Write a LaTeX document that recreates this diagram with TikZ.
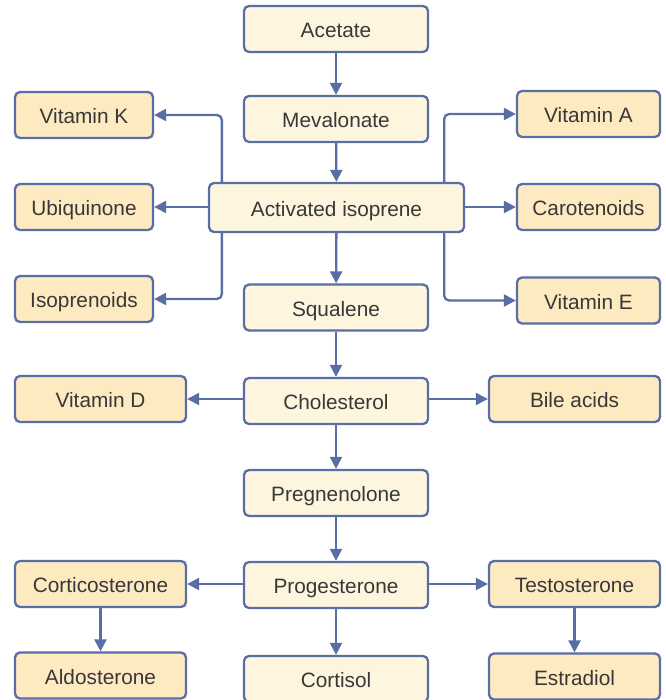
\documentclass[tikz,border=0pt]{standalone}
\usepackage{fontspec}
\setmainfont{Liberation Sans}
\usetikzlibrary{arrows.meta}
\definecolor{edgeblue}{HTML}{5A6EA6}
\definecolor{mainfill}{HTML}{FEF5DF}
\definecolor{sidefill}{HTML}{FDEAC0}
\definecolor{labelgray}{HTML}{383838}
\begin{document}
\begin{tikzpicture}[x=1pt,y=-1pt,
  box/.style={draw=edgeblue, line width=2.3pt, rounded corners=5pt,
    inner sep=0pt, text=labelgray, text height=17.5pt, text depth=0pt,
    font=\fontsize{20.8}{24}\selectfont},
  mainbox/.style={box, fill=mainfill, minimum width=184pt, minimum height=46pt},
  sidebox/.style={box, fill=sidefill, minimum height=46pt},
  narrow/.style={minimum width=138pt},
  wide/.style={minimum width=171pt},
  flow/.style={draw=edgeblue, line width=2.3pt,
    -{Triangle[length=12pt,width=12pt]}},
  elbow/.style={flow, rounded corners=5pt}]
\useasboundingbox (0,0) rectangle (665,700);

% central pathway
\node[mainbox] (acetate) at (336,29) {Acetate};
\node[mainbox] (meval) at (336,119) {Mevalonate};
\node[mainbox, minimum width=255pt, minimum height=49pt] (isoprene) at (336.5,207.5) {Activated isoprene};
\node[mainbox] (squalene) at (336,307.5) {Squalene};
\node[mainbox] (chol) at (336,401) {Cholesterol};
\node[mainbox] (preg) at (336,493) {Pregnenolone};
\node[mainbox] (prog) at (336,585) {Progesterone};
\node[mainbox] (cortisol) at (336,679) {Cortisol};

% products of activated isoprene
\node[sidebox, narrow] (vitk) at (84,115) {Vitamin K};
\node[sidebox, narrow] (ubiq) at (84,207) {Ubiquinone};
\node[sidebox, narrow] (isopren) at (84,299) {Isoprenoids};
\node[sidebox, minimum width=143pt] (vita) at (588.5,114) {Vitamin A};
\node[sidebox, minimum width=143pt] (carot) at (588.5,207) {Carotenoids};
\node[sidebox, minimum width=143pt] (vite) at (588.5,300.5) {Vitamin E};

% products of cholesterol and progesterone
\node[sidebox, wide] (vitd) at (100.5,399) {Vitamin D};
\node[sidebox, wide] (bile) at (574.5,399) {Bile acids};
\node[sidebox, wide] (cortico) at (100.5,584) {Corticosterone};
\node[sidebox, wide] (aldo) at (100.5,675.5) {Aldosterone};
\node[sidebox, wide] (testo) at (574.5,584) {Testosterone};
\node[sidebox, wide] (estra) at (574.5,676.5) {Estradiol};

% straight arrows down the main line
\draw[flow] (acetate) -- (meval);
\draw[flow] (meval) -- (isoprene);
\draw[flow] (isoprene) -- (squalene);
\draw[flow] (squalene) -- (chol);
\draw[flow] (chol) -- (preg);
\draw[flow] (preg) -- (prog);
\draw[flow] (prog) -- (cortisol);

% side branches, kept level with the target boxes
\draw[flow] (isoprene.west |- ubiq.east) -- (ubiq.east);
\draw[flow] (isoprene.east |- carot.west) -- (carot.west);
\draw[flow] (chol.west |- vitd.east) -- (vitd.east);
\draw[flow] (chol.east |- bile.west) -- (bile.west);
\draw[flow] (prog.west |- cortico.east) -- (cortico.east);
\draw[flow] (prog.east |- testo.west) -- (testo.west);
\draw[flow] (cortico) -- (aldo);
\draw[flow] (testo) -- (estra);

% elbow branches from activated isoprene
\draw[elbow] ([xshift=14pt]isoprene.north west) |- (vitk.east);
\draw[elbow] ([xshift=14pt]isoprene.south west) |- (isopren.east);
\draw[elbow] ([xshift=-21pt]isoprene.north east) |- (vita.west);
\draw[elbow] ([xshift=-21pt]isoprene.south east) |- (vite.west);
\end{tikzpicture}
\end{document}
